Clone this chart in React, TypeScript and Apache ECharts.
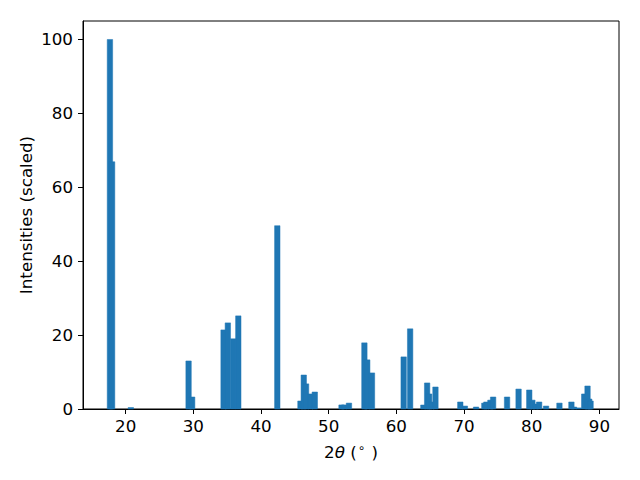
import React, { useEffect, useRef } from "react";
import * as echarts from "echarts";

// Peak positions (2θ, degrees) and scaled intensities
const positions = [
  17.68, 18.0, 20.77, 29.3, 29.83, 34.47, 35.1, 35.9, 36.65, 42.41,
  45.83, 46.32, 46.66, 47.3, 47.95, 51.9, 52.3, 53.0, 55.28, 55.7,
  56.4, 61.08, 62.04, 63.99, 64.55, 64.85, 65.2, 65.78, 69.45, 70.13,
  71.78, 73.0, 73.3, 73.9, 74.3, 76.36, 78.06, 79.64, 80.1, 80.6,
  81.1, 82.12, 84.1, 85.87, 86.25, 86.95, 87.76, 88.25, 88.5, 88.7,
];
const intensities = [
  100, 66.9, 0.4, 13.0, 3.25, 21.4, 23.3, 19.0, 25.2, 49.6,
  2.17, 9.2, 6.8, 4.07, 4.6, 1.1, 1.1, 1.6, 17.9, 13.3,
  9.76, 14.1, 21.7, 1.08, 7.05, 4.07, 1.9, 5.96, 1.9, 0.8,
  0.54, 1.6, 1.9, 2.4, 3.25, 3.25, 5.4, 5.15, 2.4, 1.35,
  1.9, 0.8, 1.6, 1.9, 0.54, 0.3, 4.07, 6.23, 2.7, 2.17,
];
const xTicks = [20, 30, 40, 50, 60, 70, 80, 90];
const yTicks = [0, 20, 40, 60, 80, 100];
const barWidth = 0.8;

export default function App() {
  const ref = useRef<HTMLDivElement>(null);
  useEffect(() => {
    if (!ref.current) return;
    const chart = echarts.init(ref.current, null, { renderer: "svg" });
    const font = "DejaVu Sans";
    const fs = 16.7;
    chart.setOption({
      animation: false,
      backgroundColor: "#ffffff",
      grid: {
        left: 83,
        right: 21,
        top: 21,
        bottom: 71,
        show: true,
        borderColor: "#000000",
        borderWidth: 1,
        backgroundColor: "transparent",
      },
      xAxis: {
        type: "value",
        min: 13.7,
        max: 92.9,
        name: "{n|2}{i|θ}{n| (}{s|∘}{n| )}",
        nameLocation: "middle",
        nameGap: 33,
        nameTextStyle: {
          rich: {
            n: { fontFamily: font, fontSize: fs, color: "#000" },
            i: { fontFamily: font, fontSize: fs, fontStyle: "italic", color: "#000" },
            s: { fontFamily: font, fontSize: 12, color: "#000", padding: [0, 1, 8, 1] },
          },
        },
        axisLine: { show: true, onZero: false, lineStyle: { color: "#000", width: 1 } },
        axisTick: {
          show: true,
          length: 5,
          customValues: xTicks,
          lineStyle: { color: "#000", width: 1 },
        },
        axisLabel: {
          customValues: xTicks,
          margin: 8,
          fontFamily: font,
          fontSize: fs,
          color: "#000",
        },
        splitLine: { show: false },
      },
      yAxis: {
        type: "value",
        min: 0,
        max: 105,
        axisLine: { show: true, onZero: false, lineStyle: { color: "#000", width: 1 } },
        axisTick: {
          show: true,
          length: 5,
          customValues: yTicks,
          lineStyle: { color: "#000", width: 1 },
        },
        axisLabel: {
          customValues: yTicks,
          margin: 10,
          fontFamily: font,
          fontSize: fs,
          color: "#000",
        },
        splitLine: { show: false },
      },
      graphic: [
        {
          type: "text",
          x: 26,
          y: 215,
          rotation: Math.PI / 2,
          style: {
            text: "Intensities (scaled)",
            fontFamily: font,
            fontSize: fs,
            fill: "#000",
            align: "center",
            verticalAlign: "middle",
          },
        },
      ],
      series: [
        {
          type: "custom",
          data: positions.map((p, i) => [p, intensities[i]]),
          renderItem: (params: any, api: any) => {
            const x = api.value(0);
            const h = api.value(1);
            const p1 = api.coord([x - barWidth / 2, h]);
            const p2 = api.coord([x + barWidth / 2, 0]);
            return {
              type: "rect",
              shape: { x: p1[0], y: p1[1], width: p2[0] - p1[0], height: p2[1] - p1[1] },
              style: { fill: "#1f77b4", stroke: "#1f77b4", lineWidth: 0.5 },
            };
          },
          encode: { x: 0, y: 1 },
        },
      ],
    });
    return () => chart.dispose();
  }, []);
  return (
    <div
      ref={ref}
      style={{ position: "absolute", left: 0, top: 0, width: 640, height: 480 }}
    />
  );
}
